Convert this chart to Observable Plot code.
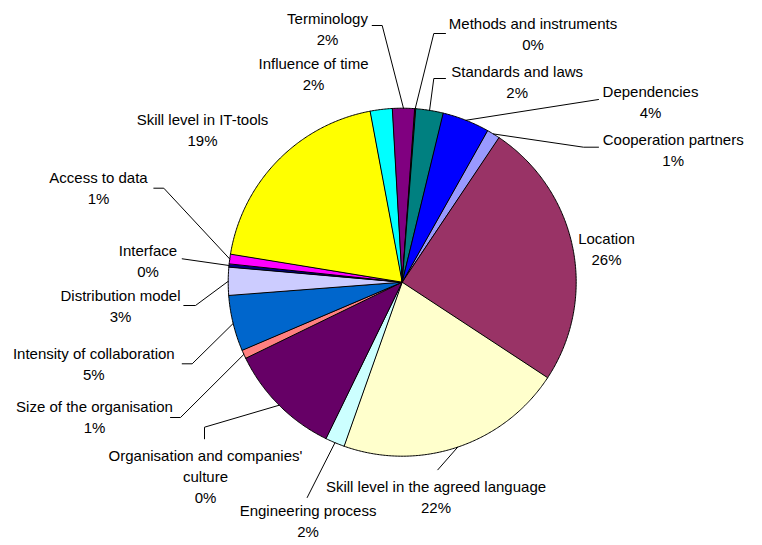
<!DOCTYPE html>
<html>
<head>
<meta charset="utf-8">
<script src="https://cdn.jsdelivr.net/npm/d3@7"></script>
<script src="https://cdn.jsdelivr.net/npm/@observablehq/plot@0.6"></script>
<style>
  html, body { margin: 0; padding: 0; background: #ffffff; }
  #chart svg { display: block; }
</style>
</head>
<body>
<div id="chart"></div>
<script>
// ---- Data ----
const categories = [
  "Cooperation partners",
  "Location",
  "Skill level in the agreed language",
  "Engineering process",
  "Organisation and companies'\nculture",
  "Size of the organisation",
  "Intensity of collaboration",
  "Distribution model",
  "Interface",
  "Access to data",
  "Skill level in IT-tools",
  "Influence of time",
  "Terminology",
  "Methods and instruments",
  "Standards and laws",
  "Dependencies"
];
// slice sizes (percent)
const values = [1.25, 24.9, 21.2, 1.8, 10.6, 0.8, 5.2, 2.6, 0.3, 0.9, 19.5, 2.05, 2.05, 0.1, 2.55, 4.36];
// percentage texts as printed on the chart
const percentLabels = ["1%", "26%", "22%", "2%", "0%", "1%", "5%", "3%", "0%", "1%", "19%", "2%", "2%", "0%", "2%", "4%"];

// ---- Styles / layout ----
const palette = ["#9999FF", "#993366", "#FFFFCC", "#CCFFFF", "#660066", "#FF8080", "#0066CC", "#CCCCFF",
                 "#000080", "#FF00FF", "#FFFF00", "#00FFFF", "#800080", "#800000", "#008080", "#0000FF"];
const W = 762, H = 545;
const cx = 401.7, cy = 281.7, R = 174;   // pie centre and radius (px)
const startAngle = 29.3;                  // degrees clockwise from 12 o'clock
const fontSize = 15, lineH = 21;
// label anchor: [centre x, first-line centre y] in px
const labelPos = [
  [672.7, 137.7], [606, 236.7], [435.5, 484.3], [307.5, 509], [205, 453.3], [94, 405],
  [93.3, 351.7], [120, 294], [147.5, 248.3], [98, 176], [202, 118], [313, 62],
  [327, 17], [532.5, 22], [516.7, 70], [650, 90]
];
// leader line points on the label side (px); null = no leader
const leaderPts = [
  [[598, 146.7], [583, 146.7]],
  null,
  [[437.3, 469.3]],
  [[306.7, 497]],
  [[204, 438.3], [204, 426.7]],
  [[170, 417], [180, 417]],
  [[181.7, 363.3], [191.7, 363.3]],
  [[183.3, 305], [195, 305]],
  [[181.7, 258.3]],
  [[153.3, 187.7], [163.3, 187.7]],
  null,
  null,
  [[371.7, 25], [381.7, 25]],
  [[445, 33], [433.3, 33]],
  [[445, 78], [433.3, 78]],
  [[598, 99]]
];

// ---- Build geometry in pie units (radius = 1) ----
const toX = px => (px - cx) / R;
const toY = py => (cy - py) / R;
const rad = a => a * Math.PI / 180;

const total = d3.sum(values);
const slices = [];
const leaders = [];
const labels = [];
let acc = 0;
values.forEach((v, i) => {
  const a0 = startAngle + acc / total * 360;
  acc += v;
  const a1 = startAngle + acc / total * 360;
  const cat = categories[i];
  slices.push({cat, x: 0, y: 0});
  const n = Math.max(2, Math.ceil((a1 - a0) / 0.5));
  for (let k = 0; k <= n; k++) {
    const a = a0 + (a1 - a0) * k / n;
    slices.push({cat, x: Math.sin(rad(a)), y: Math.cos(rad(a))});
  }
  const mid = (a0 + a1) / 2;
  if (leaderPts[i]) {
    leaderPts[i].forEach(p => leaders.push({cat, x: toX(p[0]), y: toY(p[1])}));
    leaders.push({cat, x: Math.sin(rad(mid)), y: Math.cos(rad(mid))});
  }
  const text = cat + "\n" + percentLabels[i];
  const nLines = text.split("\n").length;
  labels.push({
    cat, text,
    x: toX(labelPos[i][0]),
    y: toY(labelPos[i][1] + (nLines - 1) * lineH / 2)
  });
});

const chart = Plot.plot({
  width: W,
  height: H,
  margin: 0,
  x: {domain: [-1, 1], range: [cx - R, cx + R], axis: null},
  y: {domain: [-1, 1], range: [cy + R, cy - R], axis: null},
  color: {domain: categories, range: palette},
  style: {background: "#ffffff", overflow: "visible"},
  marks: [
    Plot.line(slices, {
      x: "x", y: "y", z: "cat", fill: "cat",
      stroke: "#000000", strokeWidth: 1, curve: "linear-closed", strokeLinejoin: "round"
    }),
    Plot.line(leaders, {x: "x", y: "y", z: "cat", stroke: "#000000", strokeWidth: 1}),
    Plot.text(labels, {
      x: "x", y: "y", text: "text",
      fontSize, lineHeight: lineH / fontSize,
      fontFamily: "'Liberation Sans', Arial, sans-serif",
      fill: "#000000", textAnchor: "middle"
    })
  ]
});
document.getElementById("chart").appendChild(chart);
</script>
</body>
</html>
